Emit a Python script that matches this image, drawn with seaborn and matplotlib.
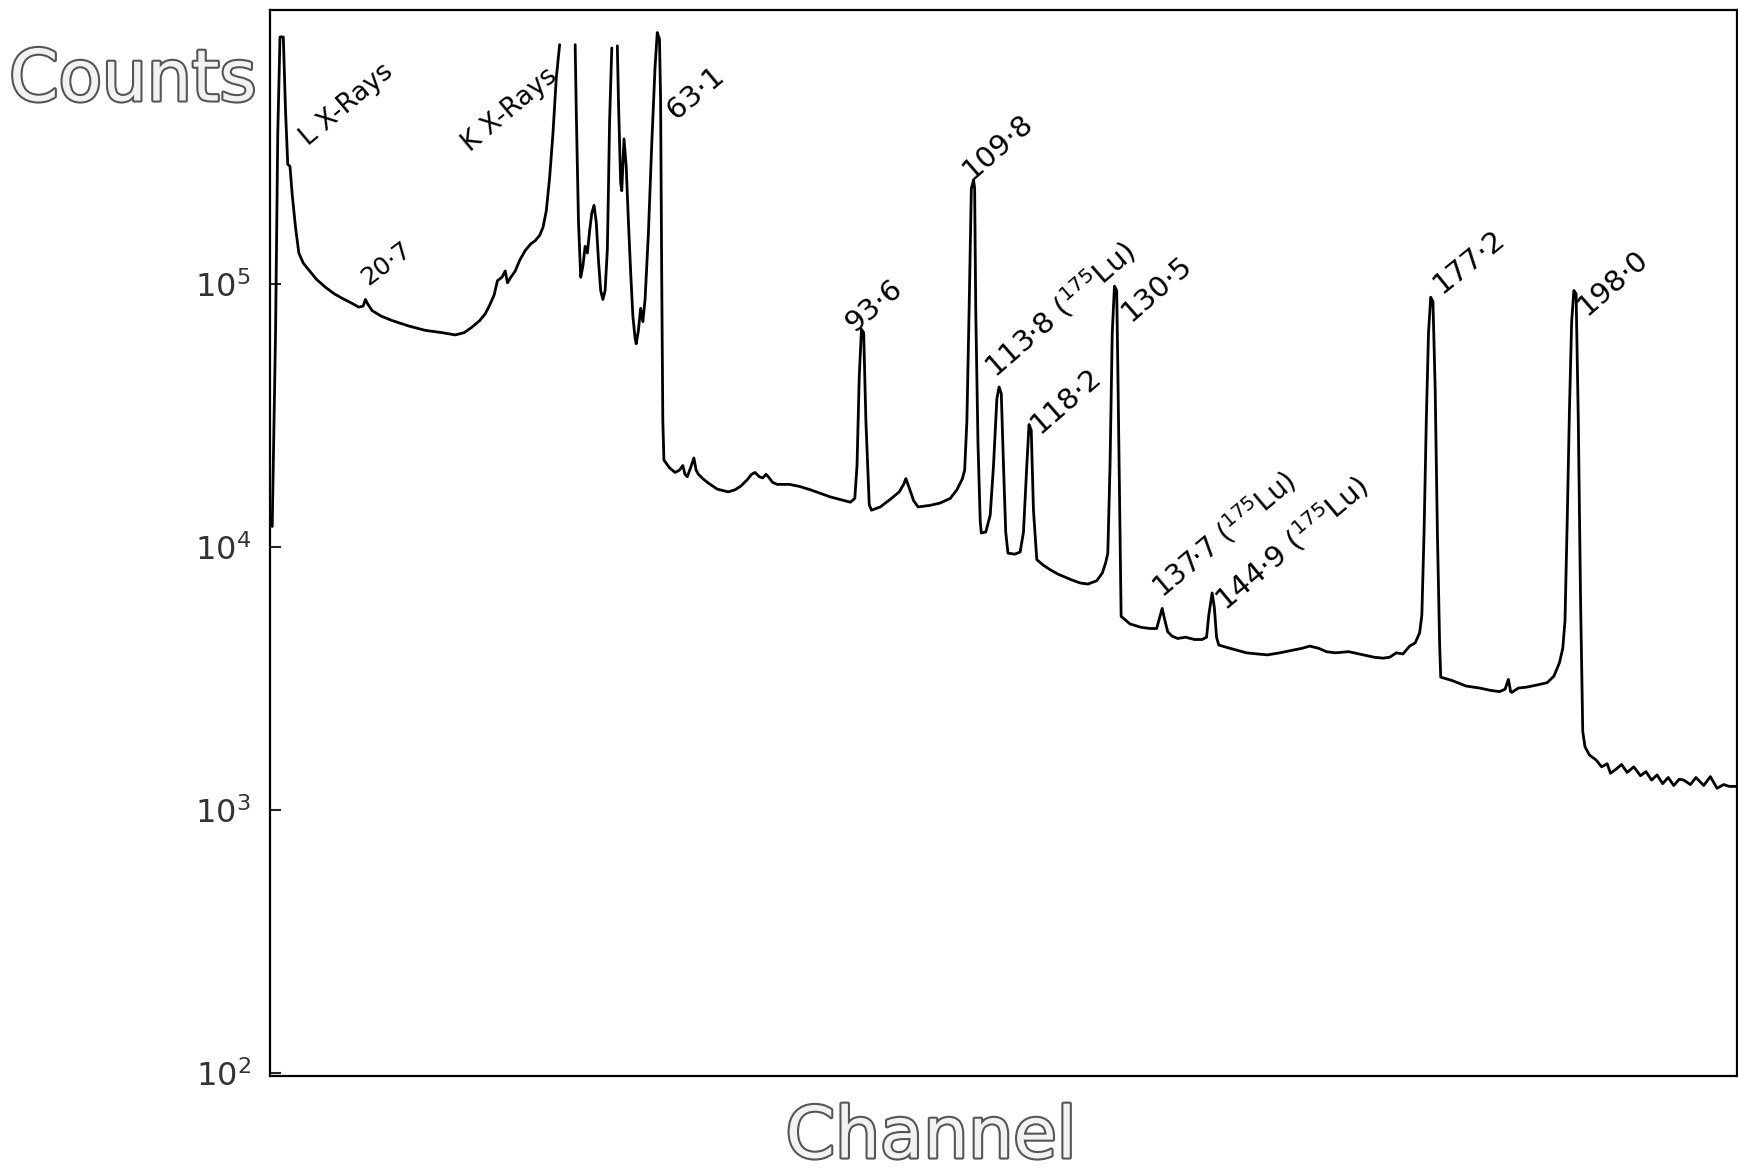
import numpy as np
import pandas as pd
import matplotlib
matplotlib.use("Agg")
import matplotlib.pyplot as plt
import matplotlib.patheffects as pe
from matplotlib.ticker import FixedLocator, NullLocator, FixedFormatter
import seaborn as sns

# ---- data (channel in arbitrary units, counts) ----
seg_a_channel = [2, 5, 7, 9, 12, 14, 16, 18, 20, 23, 26, 30, 35, 42, 50, 58, 65, 73, 80, 84, 86, 88,
                 92, 100, 110, 125, 140, 155, 167, 175, 182, 189, 194, 198, 202, 205, 209, 212, 214,
                 217, 221, 225, 230, 235, 239, 243, 246, 249, 252, 255, 258, 261]
seg_a_counts = [11970, 65300, 374000, 869000, 869000, 454000, 285000, 280000, 219000, 164000, 131000,
                120000, 113000, 104000, 97100, 91700, 88200, 84800, 81600, 82400, 87300, 84000, 79200,
                75500, 72600, 69200, 66600, 65300, 64000, 65300, 68500, 72600, 77000, 83200, 90800,
                103000, 106000, 112000, 101000, 106000, 112000, 123000, 134000, 142000, 146000, 153000,
                164000, 190000, 254000, 374000, 607000, 812000]

seg_b_channel = [275, 276, 278, 280, 282, 284, 286, 288, 290, 292, 294, 296, 298, 300, 302, 304, 305,
                 306, 308]
seg_b_counts = [812000, 454000, 172000, 106000, 117000, 139000, 131000, 159000, 186000, 199000, 172000,
                123000, 94400, 87300, 94400, 135000, 230000, 412000, 789000]

seg_c_channel = [313, 314, 316, 317, 319, 321, 323, 325, 327, 329, 330, 332, 334, 336, 338, 341, 344,
                 347, 349, 351, 352, 353, 354, 355, 360, 365, 369, 372, 374, 376, 379, 382, 384, 386,
                 390, 395, 403, 413, 419, 424, 430, 434, 437, 441, 444, 447, 449, 453, 457, 468, 477,
                 487, 496, 505, 515, 523, 527, 529, 531, 533, 535, 537, 540, 542, 550, 560, 567, 571,
                 573, 576, 580, 584, 595, 604, 613, 619, 624, 626, 628, 630, 632, 634, 635, 636, 638,
                 640, 641, 645, 649, 652, 655, 657, 659, 661, 663, 665, 671, 676, 679, 682, 684, 686,
                 688, 691, 697, 703, 710, 722, 730, 737, 745, 750, 753, 755, 757, 759, 761, 763, 764,
                 766, 767, 775, 785, 793, 799, 802, 804, 806, 809, 813, 818, 825, 833, 840, 844, 846,
                 849, 851, 853, 855, 865, 880, 890, 899, 910, 920, 930, 937, 945, 952, 960, 972, 985,
                 995, 1003, 1009, 1015, 1021, 1027, 1032, 1036, 1038, 1040, 1042, 1044, 1046, 1048,
                 1050, 1052, 1054, 1055, 1065, 1078, 1090, 1100, 1108, 1113, 1116, 1118, 1119, 1125,
                 1132, 1142, 1151, 1157, 1162, 1165, 1167, 1169, 1171, 1173, 1175, 1177, 1179, 1181,
                 1183, 1185, 1189, 1195, 1200, 1205, 1208, 1213, 1218, 1223, 1229, 1235, 1240, 1245,
                 1250, 1255, 1260, 1265, 1270, 1274, 1280, 1285, 1292, 1298, 1304, 1310, 1315, 1322]
seg_c_counts = [804000, 500000, 242000, 226000, 356000, 280000, 172000, 111000, 75500, 62200, 59200,
                66600, 80800, 71900, 87300, 156000, 339000, 669000, 903000, 852000, 500000, 106000,
                30100, 21400, 20000, 19200, 19600, 20400, 18900, 18500, 20000, 21800, 19600, 18900,
                18200, 17500, 16600, 16200, 16500, 17000, 18000, 18900, 19200, 18500, 18300, 18900,
                18500, 17600, 17300, 17300, 17000, 16500, 16000, 15500, 15100, 14800, 15300, 20400,
                44300, 67200, 65300, 30100, 14500, 13800, 14200, 15300, 16200, 17300, 18200, 16800,
                15000, 14200, 14400, 14700, 15300, 16500, 18200, 19600, 30100, 79200, 230000, 249000,
                230000, 79200, 24800, 12600, 11300, 11400, 13200, 20400, 36500, 40600, 38300, 20400,
                11400, 9480, 9390, 9570, 11400, 20400, 29200, 27800, 13800, 8950, 8520, 8200, 7890,
                7510, 7300, 7230, 7440, 7960, 8690, 9480, 20400, 65300, 98100, 94400, 48800, 11400,
                5450, 5100, 4950, 4900, 4900, 5450, 5840, 5350, 4760, 4580, 4490, 4540, 4450, 4450,
                4540, 5510, 6690, 5890, 4540, 4240, 4120, 3960, 3920, 3890, 3960, 4040, 4120, 4200,
                4120, 4000, 3960, 4000, 3890, 3810, 3780, 3810, 3960, 3920, 4200, 4320, 4720, 5510,
                11400, 30100, 65300, 89000, 85600, 40200, 11400, 4320, 3200, 3110, 2960, 2910, 2850,
                2820, 2880, 3140, 2820, 2800, 2910, 2930, 2990, 3050, 3230, 3630, 4120, 5250, 12600,
                33100, 71900, 94400, 91700, 30100, 6370, 1990, 1740, 1620, 1550, 1460, 1500, 1380,
                1430, 1490, 1390, 1460, 1350, 1400, 1300, 1360, 1260, 1330, 1240, 1310, 1300, 1250,
                1330, 1240, 1340, 1210, 1250, 1230, 1230]

peak_labels = ["L X-Rays", "20·7", "K X-Rays", "63·1", "93·6", "109·8",
               "113·8 ($^{175}$Lu)", "118·2", "130·5", "137·7 ($^{175}$Lu)",
               "144·9 ($^{175}$Lu)", "177·2", "198·0"]
label_channel = [34, 88, 180, 366, 526, 632, 654, 694, 776, 804, 861, 1056, 1187]
label_counts = [333000, 98000, 317000, 420000, 65300, 249000, 43500, 26800, 71900, 6370, 5670,
                91700, 75500]
label_sizes = [19, 18, 19, 21, 21, 21, 21, 21, 21, 20, 21, 21, 21]
label_angles = [40, 37, 40, 40, 40, 41, 41, 41, 41, 40, 40, 39, 41]

tick_values = [1e2, 1e3, 1e4, 1e5]
tick_labels = ["$10^2$", "$10^3$", "$10^4$", "$10^5$"]

# ---- build table ----
frames = []
for name, ch, ct in [("a", seg_a_channel, seg_a_counts),
                     ("b", seg_b_channel, seg_b_counts),
                     ("c", seg_c_channel, seg_c_counts)]:
    frames.append(pd.DataFrame({"channel": ch, "counts": ct, "segment": name}))
df = pd.concat(frames, ignore_index=True)

sns.set_theme(style="white")
plt.rcParams["font.family"] = ["DejaVu Sans"]
plt.rcParams["mathtext.fontset"] = "dejavusans"

fig = plt.figure(figsize=(17.38, 11.71), dpi=100)
ax = fig.add_axes([270 / 1738, 1 - 1076 / 1171, (1737 - 270) / 1738, (1076 - 10) / 1171])

sns.lineplot(data=df, x="channel", y="counts", units="segment", estimator=None, sort=False,
             color="black", linewidth=2.0, ax=ax, legend=False)

ax.set_yscale("log")
ax.set_ylim(97.5, 1.10e6)
ax.set_xlim(0, 1322)
ax.yaxis.set_major_locator(FixedLocator(tick_values))
ax.yaxis.set_major_formatter(FixedFormatter(tick_labels))
ax.yaxis.set_minor_locator(NullLocator())
ax.set_xticks([])
ax.set_xlabel("")
ax.set_ylabel("")
ax.tick_params(axis="y", direction="in", length=8, width=1.5, pad=14, labelsize=23,
               labelcolor="#333333", left=True)
for sp in ax.spines.values():
    sp.set_color("black")
    sp.set_linewidth(1.6)

for txt, cx, cy, fs, ang in zip(peak_labels, label_channel, label_counts, label_sizes, label_angles):
    ax.text(cx, cy, txt, rotation=ang, rotation_mode="anchor", ha="left", va="baseline",
            fontsize=fs, color="black")

outline = [pe.withStroke(linewidth=3, foreground="#555555")]
fig.text(133 / 1738, 1 - 81 / 1171, "Counts", fontsize=51, color="#f2f2f2",
         ha="center", va="center", path_effects=outline)
fig.text(931 / 1738, 1 - 1138 / 1171, "Channel", fontsize=51, color="#f2f2f2",
         ha="center", va="center", path_effects=outline)

fig.savefig("out.png", dpi=100)
